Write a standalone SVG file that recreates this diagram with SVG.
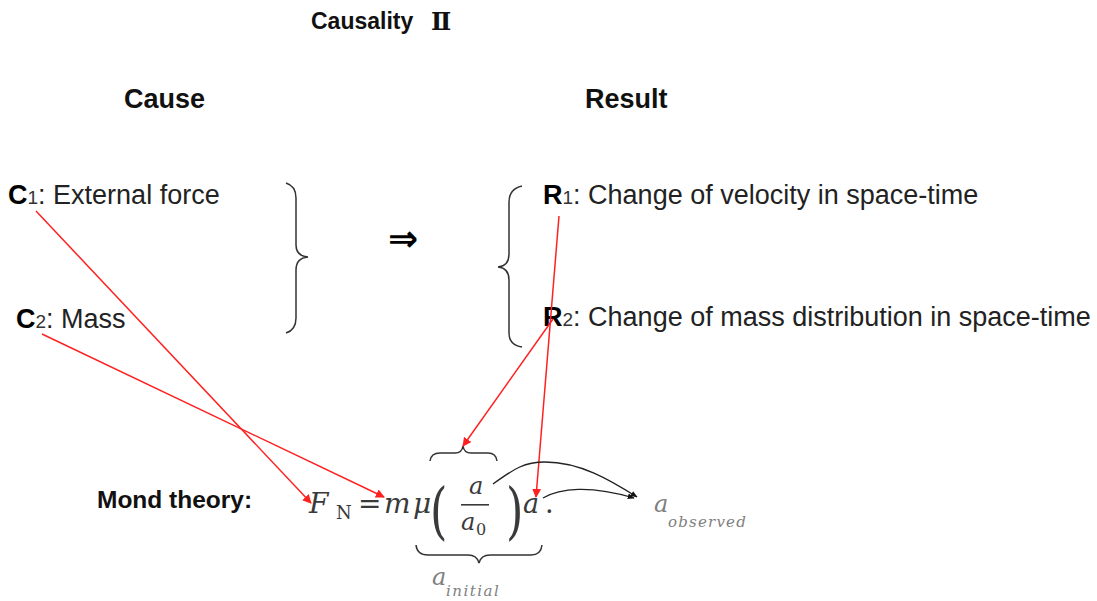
<svg xmlns="http://www.w3.org/2000/svg" width="1097" height="601" viewBox="0 0 1097 601">
<style>
  .hdr { font-family: "Liberation Sans", Arial, "Noto Sans CJK JP", sans-serif; font-weight: bold; fill: #111; }
  .lbl { font-family: "Liberation Sans", Arial, sans-serif; font-size: 27px; fill: #222; }
  .b { font-weight: bold; fill: #000; }
  .sub { font-size: 19px; fill: #333; }
  .math { font-family: "DejaVu Serif", "Liberation Serif", serif; font-style: italic; fill: #3a3a3a; }
  .mathr { font-family: "DejaVu Serif", "Liberation Serif", serif; fill: #3a3a3a; }
  .grey { fill: #808080; }
  .brace { fill: none; stroke: #333; stroke-width: 1.5; }
  .red { fill: none; stroke: #ff2020; stroke-width: 1.5; }
  .blk { fill: none; stroke: #222; stroke-width: 1.3; }
</style>
<defs>
  <marker id="ra" viewBox="0 0 10 10" refX="9" refY="5" markerWidth="9" markerHeight="9" markerUnits="userSpaceOnUse" orient="auto">
    <path d="M0,0 L10,5 L0,10 z" fill="#ff2020"/>
  </marker>
  <marker id="ka" viewBox="0 0 10 10" refX="9" refY="5" markerWidth="7" markerHeight="7" markerUnits="userSpaceOnUse" orient="auto">
    <path d="M0,1 L10,5 L0,9 z" fill="#111"/>
  </marker>
</defs>
<rect width="1097" height="601" fill="#fff"/>

<g id="title"><text class="hdr" x="311" y="29" font-size="23">Causality<tspan x="431" y="30" font-family="DejaVu Serif, Noto Sans CJK JP, serif" font-size="24">Ⅱ</tspan></text></g>
<g id="cause-hdr"><text class="hdr" x="124" y="108" font-size="27">Cause</text></g>
<g id="result-hdr"><text class="hdr" x="585" y="108" font-size="27">Result</text></g>

<g id="c1"><text class="lbl" x="8" y="204"><tspan class="b">C</tspan><tspan class="sub">1</tspan>: External force</text></g>
<g id="c2"><text class="lbl" x="16" y="328"><tspan class="b">C</tspan><tspan class="sub">2</tspan>: Mass</text></g>
<g id="r1"><text class="lbl" x="543" y="204"><tspan class="b">R</tspan><tspan class="sub">1</tspan>: Change of velocity in space-time</text></g>
<g id="r2"><text class="lbl" x="543" y="326"><tspan class="b">R</tspan><tspan class="sub">2</tspan>: Change of mass distribution in space-time</text></g>

<g id="brace-cause"><path class="brace" d="M286,183 Q296,186 296,198 L296,245 Q296,256 308,257 Q296,258 296,270 L296,318 Q296,330 286,333"/></g>
<g id="implies"><text x="388" y="251" font-family="DejaVu Sans, sans-serif" font-size="36" font-weight="bold" fill="#000">⇒</text></g>
<g id="brace-result"><path class="brace" d="M522,186 Q509,189 509,202 L509,254 Q509,266 498,267 Q509,268 509,280 L509,333 Q509,345 522,347"/></g>

<g id="mond-label"><text class="hdr" x="97" y="508" font-size="24.5">Mond theory:</text></g>

<g id="formula">
  <text class="math" x="309" y="513" font-size="28">F</text>
  <text class="mathr" x="336" y="519" font-size="18">N</text>
  <text class="mathr" x="358" y="513" font-size="28">=</text>
  <text class="math" x="384" y="513" font-size="28">m</text>
  <text class="math" x="413" y="513" font-size="28">μ</text>
  <text class="mathr" x="430" y="532" font-size="62" transform="translate(430 0) scale(0.72 1) translate(-430 0)">(</text>
  <text class="math" x="469" y="494" font-size="24">a</text>
  <rect x="461" y="504" width="28" height="1.6" fill="#3a3a3a"/>
  <text class="math" x="461" y="530" font-size="24">a</text>
  <text class="mathr" x="476" y="535" font-size="16">0</text>
  <text class="mathr" x="506" y="532" font-size="62" transform="translate(506 0) scale(0.72 1) translate(-506 0)">)</text>
  <text class="math" x="523" y="513" font-size="27">a</text>
  <text class="mathr" x="545" y="513" font-size="27">.</text>
</g>

<g id="brace-top"><path class="brace" d="M430,461 Q431,453 440,453 L455,453 Q462,453 463,446 Q464,453 471,453 L488,453 Q496,453 497,461"/></g>
<g id="brace-bottom"><path class="brace" d="M416,545 Q417,555 428,555 L468,555 Q477,555 479,563 Q481,555 490,555 L531,555 Q541,555 542,545"/></g>

<g id="a-initial">
  <text class="math grey" x="432" y="585" font-size="24">a</text>
  <text class="math grey" x="446" y="596" font-size="15" letter-spacing="1.5">initial</text>
</g>
<g id="a-observed">
  <text class="math grey" x="654" y="512" font-size="24">a</text>
  <text class="math grey" x="668" y="527" font-size="15" letter-spacing="1.2">observed</text>
</g>

<g id="connectors">
  <line class="red" x1="36" y1="211" x2="311" y2="503" marker-end="url(#ra)"/>
  <line class="red" x1="42" y1="334" x2="384" y2="497" marker-end="url(#ra)"/>
  <line class="red" x1="553" y1="319" x2="463" y2="446" marker-end="url(#ra)"/>
  <line class="red" x1="559" y1="216" x2="536" y2="497" marker-end="url(#ra)"/>
  <path class="blk" d="M493,484 C515,468 525,462 545,462 C580,462 610,480 637,497" marker-end="url(#ka)"/>
  <path class="blk" d="M543,498 C560,488 590,485 634,498" marker-end="url(#ka)"/>
</g>
</svg>
